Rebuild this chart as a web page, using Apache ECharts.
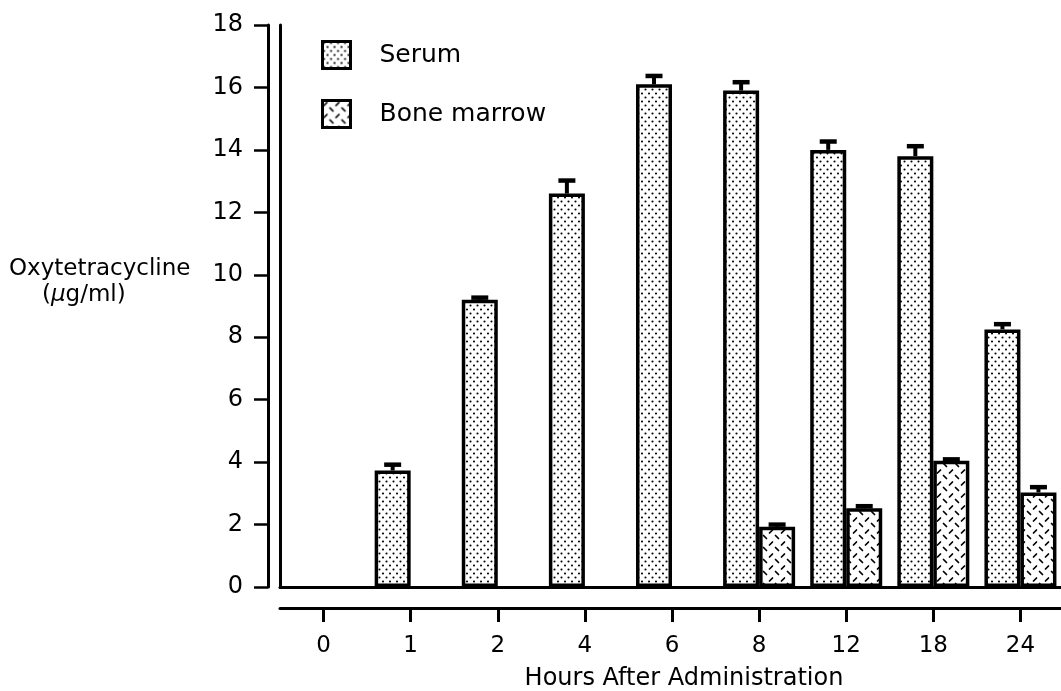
<!DOCTYPE html>
<html>
<head>
<meta charset="utf-8">
<script src="https://cdn.jsdelivr.net/npm/echarts@6/dist/echarts.min.js"></script>
<style>
html,body{margin:0;padding:0;background:#fff;}
#chart{width:1061px;height:691px;}
</style>
</head>
<body>
<div id="chart"></div>
<script>
// ---- data ----
const categories = ['0', '1', '2', '4', '6', '8', '12', '18', '24'];
const serumValues = [null, 3.73, 9.2, 12.6, 16.1, 15.9, 14.0, 13.8, 8.25];
const serumErrors = [null, 0.22, 0.1, 0.45, 0.3, 0.3, 0.3, 0.35, 0.2];
const marrowValues = [null, null, null, null, null, 1.93, 2.52, 4.04, 3.03];
const marrowErrors = [null, null, null, null, null, 0.1, 0.1, 0.08, 0.2];
const yMin = 0, yMax = 18, yInterval = 2;
const seriesNames = ['Serum', 'Bone marrow'];
const xAxisTitle = 'Hours After Administration';
const yAxisTitle1 = 'Oxytetracycline';
const yAxisTitle2 = '({i|\u03bc}g/ml)';

// ---- styles ----
const FONT = 'DejaVu Sans';
const BAR_W = 36;

function dotPattern() {
  const c = document.createElement('canvas');
  c.width = 7; c.height = 8;
  const g = c.getContext('2d');
  g.fillStyle = '#fff'; g.fillRect(0, 0, 7, 8);
  g.fillStyle = '#000';
  g.beginPath(); g.arc(1.5, 1.5, 1.05, 0, Math.PI * 2); g.fill();
  g.beginPath(); g.arc(5, 5.5, 1.05, 0, Math.PI * 2); g.fill();
  return c;
}
function dashPattern() {
  const c = document.createElement('canvas');
  c.width = 12; c.height = 12;
  const g = c.getContext('2d');
  g.fillStyle = '#fff'; g.fillRect(0, 0, 12, 12);
  g.strokeStyle = '#000'; g.lineWidth = 1.7; g.lineCap = 'round';
  g.beginPath(); g.moveTo(1.5, 5); g.lineTo(4.5, 2); g.stroke();
  g.beginPath(); g.moveTo(7.5, 7.5); g.lineTo(10.5, 10.5); g.stroke();
  return c;
}

function errData(vals, errs) {
  const out = [];
  vals.forEach((v, i) => { if (v != null && errs[i] != null) out.push([i, v, errs[i]]); });
  return out;
}
function errRenderer(offset) {
  return function (params, api) {
    const i = api.value(0), v = api.value(1), e = api.value(2);
    const b = api.coord([i, v]);
    const t = api.coord([i, v + e]);
    const x = b[0] + offset;
    return {
      type: 'group',
      children: [
        { type: 'line', shape: { x1: x, y1: b[1], x2: x, y2: t[1] }, style: { stroke: '#000', lineWidth: 4 } },
        { type: 'line', shape: { x1: x - 8.5, y1: t[1] + 1, x2: x + 8.5, y2: t[1] + 1 }, style: { stroke: '#000', lineWidth: 4.5 } }
      ]
    };
  };
}

const chart = echarts.init(document.getElementById('chart'));
const axisLineStyle = { color: '#000', width: 3 };
chart.setOption({
  animation: false,
  backgroundColor: '#fff',
  textStyle: { fontFamily: FONT, color: '#000' },
  grid: { left: 280, right: -3, top: 25, bottom: 104, containLabel: false, outerBoundsMode: 'none' },
  legend: {
    data: seriesNames,
    orient: 'vertical',
    left: 321, top: 40, padding: 0,
    itemWidth: 28, itemHeight: 27, itemGap: 29,
    icon: 'rect',
    itemStyle: { borderColor: '#000', borderWidth: 3 },
    textStyle: { fontFamily: FONT, fontSize: 25, color: '#000', padding: [5, 0, 0, 24] }
  },
  xAxis: [
    {
      type: 'category', data: categories, position: 'bottom', offset: 21,
      axisLine: { show: true, onZero: false, lineStyle: axisLineStyle },
      axisTick: { show: true, alignWithLabel: true, length: 14, lineStyle: { color: '#000', width: 3 } },
      axisLabel: { fontFamily: FONT, fontSize: 23, color: '#000', margin: 27 },
      name: xAxisTitle, nameLocation: 'middle', nameGap: 59,
      nameTextStyle: { fontFamily: FONT, fontSize: 24, color: '#000', padding: [0, 0, 0, 24] },
      splitLine: { show: false }
    },
    {
      type: 'category', data: categories, position: 'bottom', offset: 0,
      axisLine: { show: true, onZero: false, lineStyle: axisLineStyle },
      axisTick: { show: false }, axisLabel: { show: false }, splitLine: { show: false }
    }
  ],
  yAxis: [
    {
      type: 'value', min: yMin, max: yMax, interval: yInterval, position: 'left', offset: 12,
      axisLine: { show: true, onZero: false, lineStyle: axisLineStyle },
      axisTick: { show: true, length: 14, lineStyle: { color: '#000', width: 2.5 } },
      axisLabel: { fontFamily: FONT, fontSize: 24, color: '#000', margin: 25 },
      splitLine: { show: false }
    },
    {
      type: 'value', min: yMin, max: yMax, interval: yInterval, position: 'left', offset: 0,
      axisLine: { show: true, onZero: false, lineStyle: axisLineStyle },
      axisTick: { show: false }, axisLabel: { show: false }, splitLine: { show: false }
    }
  ],
  graphic: [
    { type: 'text', left: 9, top: 258, style: { text: yAxisTitle1, font: '23px "DejaVu Sans"', fill: '#000' } },
    { type: 'text', left: 42, top: 284, style: { text: yAxisTitle2, font: '23px "DejaVu Sans"', fill: '#000',
      rich: { i: { fontStyle: 'italic', fontSize: 23, fontFamily: FONT, fill: '#000' } } } }
  ],
  series: [
    {
      name: seriesNames[0], type: 'bar', data: serumValues, barWidth: BAR_W, barGap: '0%',
      itemStyle: { color: { image: dotPattern(), repeat: 'repeat' }, borderColor: '#000', borderWidth: 3.5 }
    },
    {
      name: seriesNames[1], type: 'bar', data: marrowValues, barWidth: BAR_W, barGap: '0%',
      itemStyle: { color: { image: dashPattern(), repeat: 'repeat' }, borderColor: '#000', borderWidth: 3.5 }
    },
    {
      type: 'custom', name: 'serum-err', data: errData(serumValues, serumErrors),
      renderItem: errRenderer(-BAR_W / 2), encode: { x: 0, y: 1 }, z: 5, silent: true
    },
    {
      type: 'custom', name: 'marrow-err', data: errData(marrowValues, marrowErrors),
      renderItem: errRenderer(BAR_W / 2), encode: { x: 0, y: 1 }, z: 5, silent: true
    }
  ]
});
</script>
</body>
</html>
